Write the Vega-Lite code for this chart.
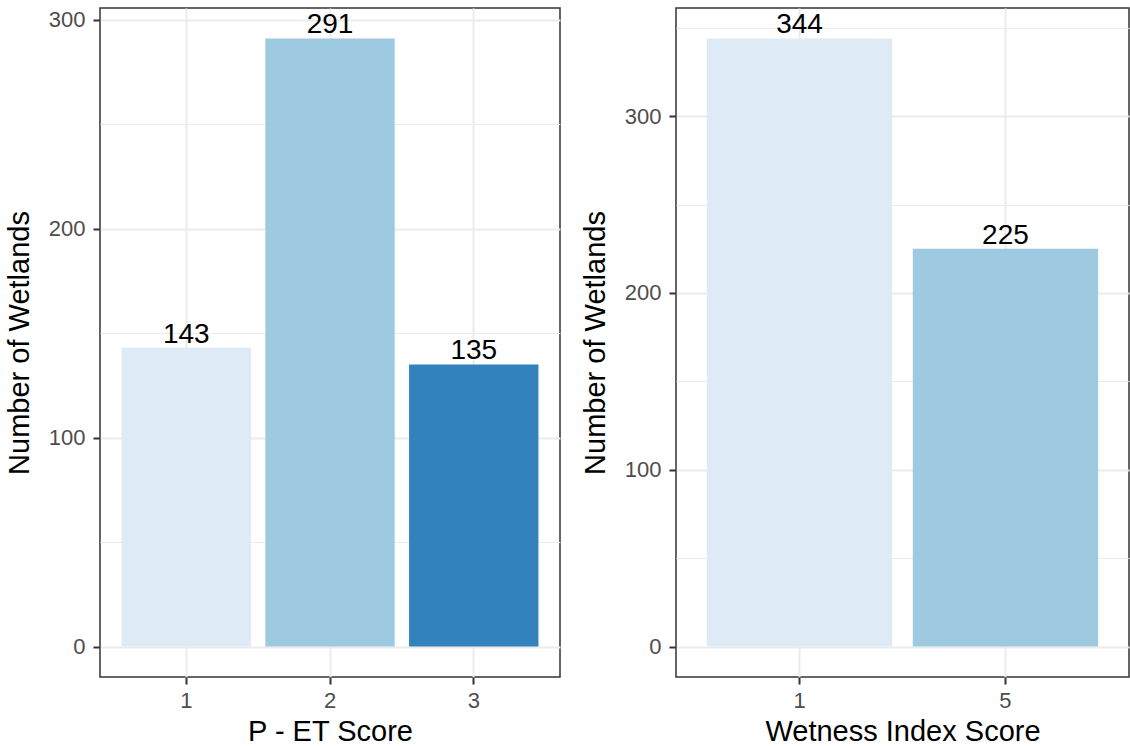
{
  "$schema": "https://vega.github.io/schema/vega-lite/v6.json",
  "padding": {"left": 4, "top": 7, "right": 0, "bottom": 0},
  "autosize": {"type": "pad"},
  "background": "white",
  "config": {
    "font": "Liberation Sans",
    "view": {"stroke": "#333333", "strokeWidth": 1.5},
    "axis": {
      "labelFont": "Liberation Sans",
      "labelFontSize": 22,
      "labelColor": "#4D4D4D",
      "tickColor": "#333333",
      "tickWidth": 2,
      "tickSize": 7,
      "domain": false,
      "gridColor": "#EBEBEB",
      "gridWidth": 2,
      "titleFont": "Liberation Sans",
      "titleFontSize": 29,
      "titleFontWeight": "normal",
      "titleColor": "#000000"
    }
  },
  "datasets": {
    "pet": [
      {"score": "1", "n": 143},
      {"score": "2", "n": 291},
      {"score": "3", "n": 135}
    ],
    "wet": [
      {"score": "1", "n": 344},
      {"score": "5", "n": 225}
    ]
  },
  "bounds": "flush",
  "spacing": 116,
  "resolve": {"scale": {"color": "independent"}},
  "hconcat": [
    {
      "width": 460,
      "height": 669,
      "data": {"name": "pet"},
      "encoding": {
        "x": {
          "field": "score",
          "type": "nominal",
          "scale": {"paddingInner": 0.1, "paddingOuter": 0.15},
          "axis": {"title": "P - ET Score", "labelAngle": 0, "grid": true, "bandPosition": 0.5, "labelPadding": 6, "titlePadding": 6}
        }
      },
      "layer": [
        {
          "mark": {"type": "bar"},
          "encoding": {
            "y": {
              "field": "n",
              "type": "quantitative",
              "scale": {"domain": [-14.55, 305.55], "nice": false, "zero": false},
              "axis": {"values": [0, 100, 200, 300], "title": "Number of Wetlands", "titlePadding": 14, "labelPadding": 8, "orient": "left", "grid": true}
            },
            "y2": {"datum": 0},
            "color": {
              "field": "score",
              "type": "nominal",
              "scale": {"domain": ["1", "2", "3"], "range": ["#DEEBF7", "#9ECAE1", "#3182BD"]},
              "legend": null
            }
          }
        },
        {
          "mark": {"type": "text", "baseline": "alphabetic", "align": "center", "dy": -5, "fontSize": 28, "color": "#000000"},
          "encoding": {
            "y": {
              "field": "n",
              "type": "quantitative",
              "axis": {"values": [50, 150, 250], "orient": "right", "labels": false, "ticks": false, "title": null, "grid": true, "gridWidth": 1}
            },
            "text": {"field": "n", "type": "quantitative"}
          }
        }
      ],
      "resolve": {"axis": {"y": "independent"}}
    },
    {
      "width": 453,
      "height": 669,
      "data": {"name": "wet"},
      "encoding": {
        "x": {
          "field": "score",
          "type": "nominal",
          "scale": {"paddingInner": 0.1, "paddingOuter": 0.15},
          "axis": {"title": "Wetness Index Score", "labelAngle": 0, "grid": true, "bandPosition": 0.5, "labelPadding": 6, "titlePadding": 6}
        }
      },
      "layer": [
        {
          "mark": {"type": "bar"},
          "encoding": {
            "y": {
              "field": "n",
              "type": "quantitative",
              "scale": {"domain": [-17.2, 361.2], "nice": false, "zero": false},
              "axis": {"values": [0, 100, 200, 300], "title": "Number of Wetlands", "titlePadding": 14, "labelPadding": 8, "orient": "left", "grid": true}
            },
            "y2": {"datum": 0},
            "color": {
              "field": "score",
              "type": "nominal",
              "scale": {"domain": ["1", "5"], "range": ["#DEEBF7", "#9ECAE1"]},
              "legend": null
            }
          }
        },
        {
          "mark": {"type": "text", "baseline": "alphabetic", "align": "center", "dy": -5, "fontSize": 28, "color": "#000000"},
          "encoding": {
            "y": {
              "field": "n",
              "type": "quantitative",
              "axis": {"values": [50, 150, 250, 350], "orient": "right", "labels": false, "ticks": false, "title": null, "grid": true, "gridWidth": 1}
            },
            "text": {"field": "n", "type": "quantitative"}
          }
        }
      ],
      "resolve": {"axis": {"y": "independent"}}
    }
  ]
}
